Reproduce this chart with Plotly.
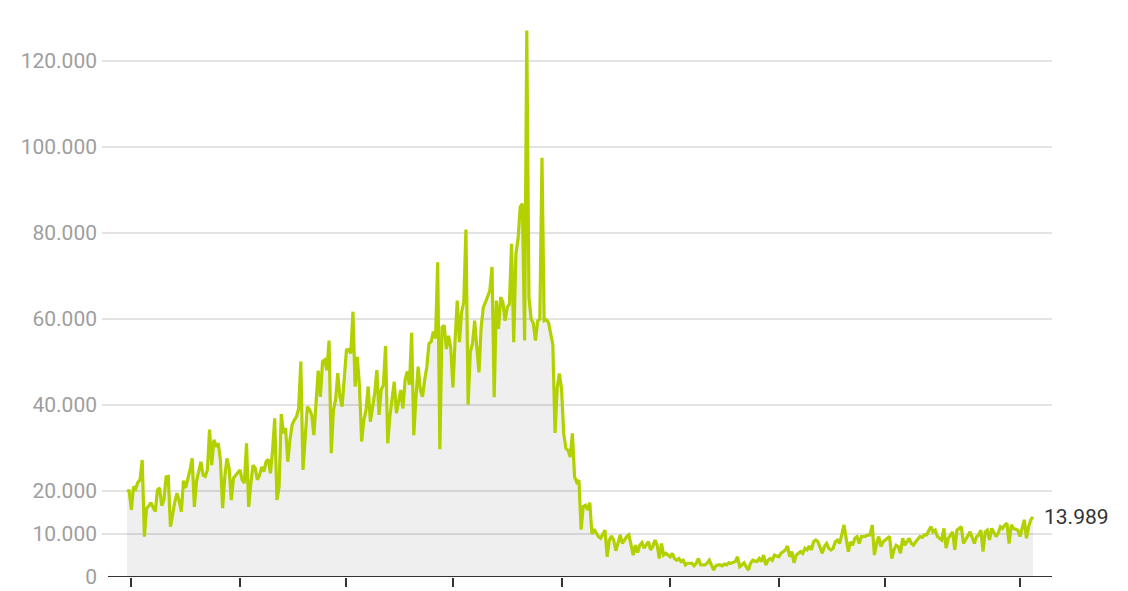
import plotly.graph_objects as go

# daily values (in thousands)
part_a = [20.2, 20, 15.6, 21, 20.5, 22, 22.6, 27.2, 9.4, 16,
          16.5, 17.3, 16.2, 15.2, 20.2, 20.7, 16.6, 18, 23.3, 23.4,
          11.7, 15.2, 17.4, 19.5, 17.7, 15.2, 22.4, 20.7, 22.6, 24.9,
          27.6, 16.3, 22.3, 24.9, 26.8, 23.7, 23.4, 24.9, 34.3, 26,
          31.9, 30.3, 31.1, 27.2, 16, 23.3, 27.6, 25.3, 17.9, 23,
          23.7, 24.5, 24.9, 22.6, 21.8, 31.1, 16.3, 21.8, 26, 25.3,
          22.6, 23.7, 25.6, 24.5, 26.8, 27.4, 24.1, 29.5, 36.9, 17.9, 21]

part_b = [37.9, 33.4, 34.6, 26.8, 31.9, 35.4, 36.5, 37.3, 39.2, 50.1,
          24.9, 33.4, 39.6, 39, 37.7, 33, 41.2, 48, 41.9, 50.1,
          50.5, 48.1, 55, 28.8, 38.8, 41.2, 47.4, 41.9, 39.6, 47,
          52.8, 52.9, 52, 61.7, 44.3, 51.2, 44.3, 31.5, 36.5, 38.8,
          44.3, 36.1, 39.6, 42.7, 48.1, 37.7, 43.5, 44.7, 53.7, 31.1,
          37.3, 41.9, 45.4, 38.1, 41.2, 43.5, 39.2, 45.8, 47.8, 44.7,
          56.8, 33, 41.9, 48.9, 43.5, 41.9, 45.8, 48.9, 54.3, 54.7, 57.1, 55.5]

part_c = [73.2, 29.7, 58.1, 58.5, 53, 56.1, 53.4, 44.1, 55, 64.3,
          54.6, 61.6, 63.9, 80.8, 40.1, 52.3, 54.2, 59.6, 53.4, 47.6,
          58.1, 62.7, 63.9, 65.1, 66.6, 72.1, 41.8, 64.3, 57.7, 65.1,
          63.9, 59.6, 62.7, 63.5, 77.5, 54.6, 75.2, 78.7, 86.1, 86.8,
          55, 127.1, 65, 60, 59, 55, 59.5, 60, 97.5, 59.6,
          59.8, 59.2, 57, 54, 33.5, 44, 47.3, 43.8, 33.4, 29.9,
          29.5, 27.9, 33.4, 23.3, 22, 22.5, 11]

part_d = [16.4, 16.7, 15.6, 17.3, 10, 11.1, 10.2, 9.4, 9, 9.9,
          10.9, 4.7, 8.6, 9.5, 8.6, 6.1, 8, 9.8, 7.8, 8.6,
          9.4, 9.8, 7.8, 5.1, 7.4, 5.7, 7.4, 8, 6.7, 7.5,
          8.2, 6.3, 7.1, 8.6, 7.4, 4.3, 7.8, 5.1, 5.5, 5.1,
          4.7, 5.5, 4.3, 3.9, 4.3, 3.6, 3.9, 2.8, 3.2, 3.2,
          3.2, 2.6, 3.2, 4.3, 2.8, 2.8, 2.8, 3.2, 3.9, 2.8,
          1.6, 2.6, 2.8, 2.8, 2.6, 3, 2.8, 3.3, 3.2, 3.4,
          3.6, 4.7, 2.4, 2.8, 3.3, 2.4, 1.6, 3.2, 3.9, 3.7,
          3.6, 4.3, 3.6, 5.1, 2.8, 3.9, 4.3, 3.9, 5.1, 4.9,
          4.7, 5.5, 5.9, 6.3, 7.2, 4.7, 5.9, 3.3, 5.1, 5.5,
          5.9, 5.5, 6.7, 6.3, 7.2, 6.3, 8.2, 8.6, 8.2, 6.9,
          5.5, 7.1, 7.8, 6.7, 6.3, 6.7, 8.2, 8.6, 7.8, 9.9,
          12.1, 9, 5.9, 8.2, 7.4, 9, 9.4, 7.8, 9.4, 9.4,
          9.5, 9.8, 9.8, 12.1, 5.1, 7.8, 9.4, 7.1, 8.2, 8.6,
          9, 9.4, 4.3, 6.3, 7.4, 7.1, 5.5, 9, 7.4, 8.2,
          9, 7.8, 7.4, 8.2, 8.8, 9.4, 9.2, 9.8, 9.8, 10.6,
          11.7, 10.5, 10.9, 9.4, 9, 8.6, 11.3, 6.7, 9, 9.8,
          10.5, 6.3, 10.9, 11.3, 11.7, 7.8, 8.6, 9.4, 10.5, 9.2,
          7.8, 9.4, 9.8, 10.9, 5.9, 10.5, 10.9, 8.6, 11.3, 10.4,
          9.4, 10.2, 11.7, 11.3, 12.1, 12.5, 7.8, 12.1, 11.3, 11.1,
          10.9, 9.4, 11.3, 13.3, 9, 11.7, 13.3, 13.989]

values = [v * 1000 for v in part_a + part_b + part_c + part_d]
days = list(range(len(values)))

tick_days = [2, 52, 101, 150, 200, 250, 300, 349, 411]
y_ticks = [0, 10000, 20000, 40000, 60000, 80000, 100000, 120000]
y_labels = ["0", "10.000", "20.000", "40.000", "60.000", "80.000", "100.000", "120.000"]
last_label = "13.989"

n = len(values) - 1
px = 906 / n  # pixels per day

fig = go.Figure()
fig.add_trace(go.Scatter(
    x=days, y=values, mode="lines",
    line=dict(color="#b3d100", width=3.2),
    fill="tozeroy", fillcolor="rgba(0,0,0,0.063)",
    hoverinfo="skip"
))

fig.add_annotation(
    x=days[-1], y=values[-1], text=last_label, showarrow=False,
    xanchor="left", yanchor="middle", xshift=9,
    font=dict(size=21, color="#333333")
)

fig.add_shape(type="line", xref="paper", yref="y", x0=6 / 950, x1=1, y0=0, y1=0,
              line=dict(color="#333333", width=2))

# page body has an 8px margin, so margins are shifted to keep the plot in place
fig.update_layout(
    width=1128, height=591,
    margin=dict(l=94, r=84, t=10, b=22, autoexpand=False),
    paper_bgcolor="white", plot_bgcolor="white",
    font=dict(family="Roboto", size=21, color="#9e9e9e"),
    showlegend=False,
    xaxis=dict(
        range=[-25 / px, n + 19 / px],
        tickvals=tick_days, showticklabels=False,
        ticks="outside", ticklen=9, tickwidth=1.5, tickcolor="#333333",
        showgrid=False, zeroline=False, showline=False, fixedrange=True,
        automargin=False
    ),
    yaxis=dict(
        range=[0, 130000],
        tickvals=y_ticks, ticktext=y_labels,
        showgrid=True, gridcolor="#e3e3e3", gridwidth=1.5,
        zeroline=False, showline=False, ticks="",
        ticklabelstandoff=4, fixedrange=True, automargin=False
    )
)

fig.write_html("out.html")
